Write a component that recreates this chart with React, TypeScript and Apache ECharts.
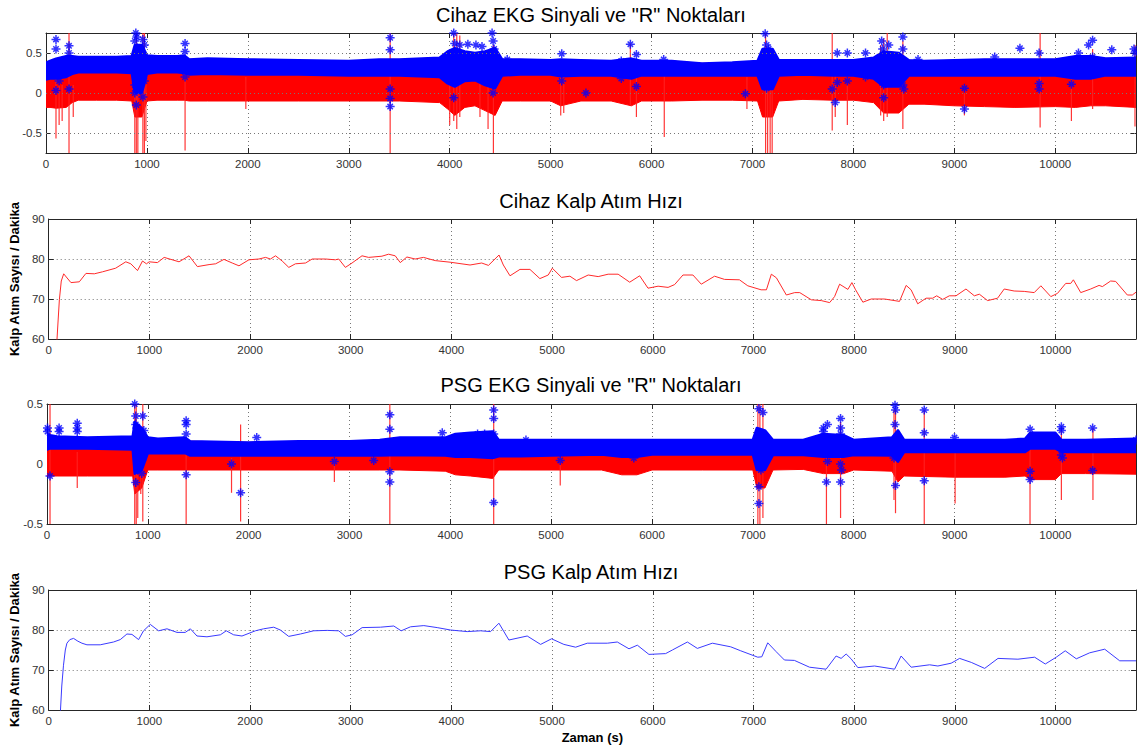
import React, { useEffect, useRef } from "react";
import * as echarts from "echarts";

// ---------- Plot 1: Cihaz EKG envelope (x in s) ----------
const ekg1X = [0, 40, 100, 200, 260, 320, 500, 700, 850, 880, 950, 1000, 1100, 1300, 1370, 1420, 1600, 2000, 2500, 3000, 3300, 3500, 3900, 3980, 4050, 4150, 4250, 4350, 4450, 4520, 4700, 5000, 5100, 5300, 5600, 5800, 5900, 6200, 6500, 6800, 7050, 7100, 7200, 7260, 7500, 7800, 8000, 8200, 8300, 8450, 8550, 8700, 9000, 9300, 9600, 10000, 10200, 10350, 10500, 10800];
const ekg1RedLow = [-0.18, -0.18, -0.19, -0.18, -0.12, -0.09, -0.09, -0.09, -0.1, -0.3, -0.3, -0.1, -0.09, -0.09, -0.09, -0.1, -0.1, -0.1, -0.1, -0.1, -0.1, -0.1, -0.12, -0.2, -0.28, -0.18, -0.16, -0.22, -0.28, -0.1, -0.1, -0.1, -0.16, -0.1, -0.1, -0.16, -0.1, -0.1, -0.09, -0.09, -0.1, -0.3, -0.3, -0.1, -0.08, -0.09, -0.09, -0.12, -0.25, -0.25, -0.14, -0.14, -0.16, -0.17, -0.18, -0.17, -0.18, -0.16, -0.16, -0.18];
const ekg1BlueLow = [0.17, 0.18, 0.18, 0.2, 0.24, 0.26, 0.26, 0.26, 0.25, 0.0, 0.0, 0.24, 0.26, 0.26, 0.25, 0.23, 0.24, 0.23, 0.23, 0.22, 0.22, 0.22, 0.2, 0.12, 0.08, 0.15, 0.16, 0.1, 0.06, 0.22, 0.23, 0.23, 0.21, 0.22, 0.22, 0.18, 0.22, 0.22, 0.22, 0.22, 0.22, 0.05, 0.05, 0.22, 0.23, 0.22, 0.22, 0.18, 0.08, 0.08, 0.22, 0.22, 0.22, 0.22, 0.22, 0.22, 0.18, 0.18, 0.22, 0.22];
const ekg1BlueHigh = [0.38, 0.4, 0.43, 0.46, 0.46, 0.45, 0.45, 0.45, 0.46, 0.6, 0.6, 0.47, 0.46, 0.46, 0.47, 0.42, 0.43, 0.42, 0.41, 0.4, 0.42, 0.42, 0.44, 0.52, 0.56, 0.52, 0.5, 0.52, 0.56, 0.42, 0.42, 0.41, 0.42, 0.41, 0.4, 0.43, 0.4, 0.4, 0.37, 0.38, 0.4, 0.55, 0.55, 0.41, 0.41, 0.41, 0.41, 0.44, 0.52, 0.5, 0.41, 0.4, 0.41, 0.42, 0.42, 0.42, 0.46, 0.46, 0.43, 0.44];
// [time, low, high]
const ekg1Spikes = [[99, -0.57, 0.3], [130, -0.4, 0.1], [160, -0.35, 0.1], [228, -0.75, 0.75], [270, -0.3, 0.1], [880, -0.75, 0.5], [895, -0.75, 0.75], [910, -0.75, 0.3], [960, -0.75, 0.75], [975, -0.75, 0.75], [990, -0.6, 0.3], [1378, -0.72, 0.3], [1980, -0.2, 0.2], [3410, -0.75, 0.75], [4000, -0.4, 0.5], [4040, -0.35, 0.75], [4070, -0.45, 0.75], [4100, -0.3, 0.72], [4300, -0.3, 0.4], [4380, -0.45, 0.5], [4433, -0.75, 0.6], [5100, -0.28, 0.3], [5130, -0.25, 0.3], [5790, -0.15, 0.62], [5850, -0.3, 0.4], [6126, -0.55, 0.3], [6945, -0.2, 0.2], [7130, -0.75, 0.75], [7150, -0.75, 0.5], [7175, -0.75, 0.55], [7195, -0.75, 0.4], [7790, -0.47, 0.75], [7820, -0.3, 0.3], [7940, -0.4, 0.3], [8270, -0.28, 0.6], [8300, -0.35, 0.68], [8335, -0.3, 0.75], [8490, -0.45, 0.65], [9100, -0.28, 0.1], [9850, -0.43, 0.75], [10160, -0.35, 0.2], [10370, -0.2, 0.55], [10790, -0.42, 0.6]];
// [time, value]
const ekg1RPoints = [[99, 0.67], [99, 0.55], [99, 0.03], [130, 0.15], [228, 0.59], [228, 0.5], [228, 0.05], [880, 0.65], [890, 0.75], [900, 0.7], [880, 0.1], [880, 0.0], [895, -0.15], [910, 0.3], [960, 0.67], [975, 0.6], [960, -0.05], [975, 0.15], [1378, 0.62], [1378, 0.52], [1378, 0.2], [3410, 0.69], [3410, 0.54], [3410, 0.05], [3410, -0.07], [3410, -0.17], [4040, 0.75], [4050, 0.62], [4060, 0.5], [4040, 0.15], [4040, -0.06], [4100, 0.6], [4180, 0.61], [4260, 0.6], [4320, 0.58], [4420, 0.75], [4430, 0.65], [4440, 0.55], [4430, 0.1], [4430, 0.0], [4570, 0.42], [5110, 0.49], [5110, 0.15], [5350, 0.0], [5700, 0.4], [5700, 0.18], [5790, 0.61], [5850, 0.48], [5850, 0.08], [6120, 0.42], [6930, -0.01], [7126, 0.74], [7140, 0.6], [7160, 0.55], [7126, 0.1], [7140, 0.06], [7180, 0.15], [7790, 0.05], [7820, -0.12], [7840, 0.5], [7840, 0.13], [7940, 0.5], [7940, 0.15], [8120, 0.5], [8120, 0.2], [8280, 0.65], [8290, 0.55], [8280, 0.3], [8300, 0.1], [8300, -0.06], [8350, 0.6], [8490, 0.7], [8490, 0.55], [8490, 0.1], [8500, 0.05], [8640, 0.42], [9100, 0.06], [9100, -0.2], [9400, 0.45], [9650, 0.56], [9840, 0.5], [9840, 0.05], [9840, 0.12], [10160, 0.11], [10230, 0.5], [10330, 0.6], [10370, 0.66], [10370, 0.45], [10560, 0.54], [10780, 0.55], [10790, 0.5]];

// ---------- Plot 2: Cihaz heart rate ----------
const cihazHr = [[78, 58], [92, 64], [106, 69.8], [125, 74.5], [149, 76.3], [175, 75.5], [221, 74.1], [304, 74.3], [370, 76.4], [453, 76.3], [535, 76.8], [665, 77.7], [766, 79.3], [816, 78.8], [882, 77.1], [932, 79.5], [971, 78.8], [998, 79.3], [1080, 79.1], [1147, 80.4], [1295, 79.3], [1394, 80.8], [1477, 78.1], [1593, 78.6], [1658, 78.8], [1741, 79.9], [1823, 79.0], [1890, 78.3], [1989, 79.8], [2088, 80.0], [2154, 80.4], [2203, 80.0], [2253, 80.8], [2319, 79.5], [2385, 77.9], [2451, 78.8], [2551, 79.0], [2617, 80.0], [2749, 80.0], [2848, 79.8], [2881, 80.0], [2947, 77.9], [3013, 79.0], [3112, 80.8], [3178, 80.4], [3310, 80.7], [3376, 81.2], [3442, 80.8], [3492, 79.1], [3558, 80.5], [3640, 80.0], [3723, 80.4], [3839, 79.6], [3987, 79.2], [4185, 78.5], [4301, 79.0], [4368, 78.4], [4473, 81.0], [4516, 78.5], [4582, 75.8], [4681, 77.4], [4780, 77.4], [4879, 75.1], [4962, 76.0], [5002, 77.7], [5094, 75.4], [5177, 75.7], [5243, 74.6], [5359, 76.0], [5458, 75.6], [5557, 76.2], [5656, 76.2], [5771, 74.2], [5870, 75.8], [5953, 72.7], [6053, 73.2], [6152, 72.9], [6217, 73.6], [6300, 76.0], [6399, 76.0], [6482, 73.7], [6614, 75.7], [6713, 74.9], [6861, 74.8], [6944, 73.3], [7076, 72.3], [7129, 72.3], [7178, 76.2], [7228, 75.3], [7327, 71.0], [7410, 71.6], [7460, 71.6], [7575, 69.8], [7674, 69.6], [7757, 69.1], [7806, 70.6], [7856, 73.7], [7938, 72.4], [7978, 74.1], [8015, 72.3], [8087, 69.2], [8170, 70.0], [8302, 70.0], [8451, 69.4], [8517, 73.4], [8566, 72.3], [8632, 68.8], [8715, 70.2], [8781, 70.2], [8820, 70.8], [8880, 69.9], [8946, 70.8], [9012, 70.8], [9111, 72.5], [9194, 70.8], [9244, 71.2], [9326, 69.6], [9425, 70.2], [9491, 72.5], [9590, 72.0], [9690, 71.9], [9789, 71.6], [9855, 73.3], [9954, 70.6], [10020, 71.4], [10102, 73.9], [10152, 73.9], [10178, 74.8], [10251, 71.6], [10350, 72.5], [10433, 73.4], [10466, 73.1], [10548, 74.5], [10598, 74.4], [10714, 71.0], [10763, 71.0], [10800, 71.7]];

// ---------- Plot 3: PSG EKG envelope ----------
const ekg2X = [0, 30, 100, 400, 850, 870, 940, 1000, 1100, 1370, 1420, 2000, 2500, 3000, 3300, 3500, 3950, 4050, 4200, 4420, 4480, 4700, 5000, 5500, 5700, 5850, 6000, 6500, 7000, 7040, 7120, 7200, 7500, 7700, 7900, 8000, 8380, 8440, 8500, 9000, 9500, 9700, 9750, 10000, 10060, 10300, 10800];
const ekg2RedLow = [-0.1, -0.1, -0.1, -0.1, -0.1, -0.25, -0.2, -0.05, -0.05, -0.05, -0.05, -0.05, -0.05, -0.05, -0.05, -0.05, -0.06, -0.09, -0.1, -0.12, -0.05, -0.05, -0.05, -0.05, -0.09, -0.09, -0.05, -0.05, -0.05, -0.2, -0.2, -0.05, -0.045, -0.08, -0.08, -0.05, -0.06, -0.15, -0.1, -0.11, -0.11, -0.1, -0.13, -0.13, -0.08, -0.08, -0.085];
const ekg2BlueLow = [0.12, 0.13, 0.13, 0.13, 0.12, -0.08, -0.05, 0.09, 0.09, 0.09, 0.07, 0.07, 0.07, 0.07, 0.07, 0.075, 0.07, 0.06, 0.06, 0.05, 0.065, 0.065, 0.07, 0.08, 0.06, 0.06, 0.08, 0.08, 0.08, -0.05, -0.05, 0.075, 0.075, 0.06, 0.06, 0.075, 0.07, 0.02, 0.1, 0.1, 0.1, 0.1, 0.13, 0.13, 0.1, 0.1, 0.1];
const ekg2BlueHigh = [0.25, 0.24, 0.23, 0.22, 0.23, 0.35, 0.3, 0.22, 0.21, 0.22, 0.19, 0.18, 0.19, 0.19, 0.2, 0.22, 0.22, 0.25, 0.26, 0.27, 0.2, 0.2, 0.2, 0.2, 0.2, 0.2, 0.2, 0.2, 0.2, 0.3, 0.28, 0.2, 0.2, 0.25, 0.24, 0.2, 0.22, 0.28, 0.2, 0.2, 0.2, 0.21, 0.26, 0.26, 0.2, 0.2, 0.21];
const ekg2Spikes = [[30, -0.5, 0.5], [300, -0.2, 0.1], [870, -0.5, 0.5], [885, -0.5, 0.5], [900, -0.45, 0.3], [930, -0.25, 0.2], [950, -0.48, 0.5], [1380, -0.5, 0.1], [1830, -0.24, 0.05], [1920, -0.48, 0.33], [2850, -0.15, 0.05], [3400, -0.5, 0.5], [4430, -0.5, 0.5], [5090, -0.18, 0.05], [7050, -0.5, 0.5], [7070, -0.5, 0.5], [7100, -0.45, 0.5], [7730, -0.5, 0.1], [7870, -0.45, 0.35], [8400, -0.3, 0.45], [8415, -0.41, 0.45], [8700, -0.5, 0.45], [9006, -0.33, 0.1], [9749, -0.5, 0.2], [10060, -0.3, 0.3], [10373, -0.3, 0.3]];
const ekg2RPoints = [[5, 0.3], [5, 0.27], [30, -0.1], [120, 0.3], [120, 0.27], [300, 0.34], [300, 0.3], [300, 0.27], [870, 0.5], [880, 0.4], [880, 0.33], [890, 0.3], [870, 0.2], [880, -0.155], [900, -0.05], [940, -0.08], [950, 0.4], [960, 0.28], [940, 0.03], [1380, 0.36], [1380, 0.33], [1380, 0.25], [1380, -0.09], [1830, 0.0], [1920, -0.24], [2080, 0.22], [2850, 0.02], [3240, 0.03], [3400, 0.41], [3400, 0.29], [3400, -0.064], [3400, -0.15], [3920, 0.26], [4270, 0.25], [4340, 0.25], [4430, 0.45], [4430, 0.38], [4430, 0.25], [4430, -0.32], [4750, 0.2], [5090, 0.03], [5820, 0.05], [7060, 0.46], [7100, 0.43], [7060, 0.25], [7080, -0.05], [7060, -0.19], [7060, -0.33], [7700, 0.27], [7700, 0.3], [7730, -0.15], [7740, 0.33], [7740, 0.02], [7870, 0.38], [7870, 0.3], [7870, 0.25], [7870, 0.0], [7880, -0.05], [7870, -0.15], [8410, 0.49], [8415, 0.45], [8410, 0.33], [8415, -0.18], [8400, 0.05], [8700, 0.45], [8700, 0.26], [8700, -0.14], [9000, 0.22], [9750, 0.29], [9750, -0.06], [9750, -0.13], [10060, 0.31], [10060, 0.28], [10060, 0.075], [10070, 0.05], [10370, 0.3], [10370, -0.055], [10800, 0.2]];

// ---------- Plot 4: PSG heart rate ----------
const psgHr = [[113, 58], [130, 66], [147, 71.2], [165, 75], [181, 76.7], [210, 77.6], [247, 77.9], [290, 77.2], [330, 76.7], [380, 76.3], [512, 76.3], [644, 77.0], [711, 77.6], [777, 79.0], [827, 78.9], [893, 77.6], [942, 79.8], [1009, 81.4], [1092, 79.8], [1175, 80.3], [1274, 79.4], [1357, 79.4], [1407, 80.3], [1473, 78.5], [1572, 78.3], [1705, 78.8], [1764, 79.8], [1837, 78.8], [1920, 78.5], [2053, 79.8], [2135, 80.3], [2235, 80.7], [2301, 80.0], [2384, 78.4], [2500, 79.0], [2632, 79.8], [2766, 79.9], [2881, 79.8], [2947, 78.4], [3014, 78.8], [3113, 80.6], [3295, 80.7], [3428, 81.0], [3501, 79.8], [3594, 80.8], [3726, 81.1], [3859, 80.6], [3991, 80.0], [4157, 79.6], [4289, 79.8], [4389, 79.6], [4472, 81.7], [4571, 77.5], [4753, 78.5], [4886, 76.4], [4995, 77.8], [5117, 76.4], [5234, 75.7], [5350, 76.7], [5549, 76.7], [5648, 77.0], [5764, 75.3], [5847, 76.2], [5962, 73.9], [6128, 74.1], [6195, 75.0], [6344, 77.0], [6443, 75.4], [6592, 76.7], [6774, 75.8], [6874, 74.8], [7043, 73.2], [7083, 73.3], [7142, 76.8], [7225, 74.6], [7308, 72.5], [7407, 72.4], [7557, 70.7], [7722, 70.2], [7821, 73.5], [7871, 72.9], [7921, 74.0], [7970, 72.8], [8037, 70.6], [8203, 71.0], [8402, 70.2], [8467, 73.5], [8567, 70.7], [8750, 71.3], [8832, 71.0], [8964, 71.7], [9048, 72.9], [9164, 71.9], [9297, 70.4], [9429, 72.9], [9627, 72.7], [9793, 73.2], [9899, 71.5], [10008, 73.2], [10097, 74.8], [10207, 72.8], [10340, 74.3], [10489, 75.2], [10638, 72.3], [10800, 72.3]];

// ---------- texts & ticks ----------
const titles = ['Cihaz EKG Sinyali ve "R" Noktaları', "Cihaz Kalp Atım Hızı", 'PSG EKG Sinyali ve "R" Noktaları', "PSG Kalp Atım Hızı"];
const yName = "Kalp Atım Sayısı / Dakika";
const xName = "Zaman (s)";
const ekg1YTicks = [-0.5, 0, 0.5];

const FONT = "'Liberation Sans', Arial, Helvetica, sans-serif";
const AX = "#262626";
const STAR = "path://M0,5L10,5M5,0L5,10M2,2L8,8M8,2L2,8";

const grids = [
  { left: 46, top: 33, width: 1090, height: 120 },
  { left: 46, top: 219, width: 1090, height: 120 },
  { left: 47, top: 404, width: 1089, height: 120 },
  { left: 48, top: 590, width: 1088, height: 120 },
];
const titleY = [15, 201, 385, 572];

function xAxesFor(i: number) {
  const common: any = {
    type: "value", gridIndex: i, min: 0, max: 10800, interval: 1000,
    axisLine: { show: true, onZero: false, lineStyle: { color: AX, width: 1 } },
    axisTick: { show: true, inside: true, length: 5, lineStyle: { color: AX } },
  };
  const bottom: any = {
    ...common, position: "bottom",
    axisLabel: { show: true, color: "#333", fontSize: 11.5, fontFamily: FONT, margin: 5, showMaxLabel: false, formatter: (v: number) => String(v) },
    splitLine: { show: true, lineStyle: { color: "#777", type: [1, 3], width: 1 } },
  };
  if (i === 3) {
    bottom.name = xName;
    bottom.nameLocation = "middle";
    bottom.nameGap = 21;
    bottom.nameTextStyle = { fontSize: 13, fontWeight: "bold", color: "#000", fontFamily: FONT };
  }
  const top = { ...common, position: "top", axisLabel: { show: false }, splitLine: { show: false } };
  return [bottom, top];
}

function yAxesFor(i: number, min: number, max: number, interval: number, custom?: number[], named?: boolean) {
  const common: any = {
    type: "value", gridIndex: i, min, max, interval,
    axisLine: { show: true, onZero: false, lineStyle: { color: AX, width: 1 } },
    axisTick: { show: true, inside: true, length: 5, lineStyle: { color: AX } },
  };
  if (custom) common.axisTick.customValues = custom;
  const left: any = {
    ...common, position: "left",
    axisLabel: {
      show: true, color: "#333", fontSize: 11.5, fontFamily: FONT, margin: 4,
      ...(custom ? { customValues: custom, formatter: (v: number) => (custom.indexOf(v) >= 0 ? String(v) : "") } : {}),
    },
    splitLine: { show: !custom, lineStyle: { color: "#777", type: [1, 3], width: 1 } },
  };
  if (named) {
    left.name = yName;
    left.nameLocation = "middle";
    left.nameRotate = 90;
    left.nameGap = 23;
    left.nameTextStyle = { fontSize: 13, fontWeight: "bold", color: "#000", fontFamily: FONT };
  }
  const right: any = { ...common, position: "right", axisLabel: { show: false }, splitLine: { show: false } };
  if (custom) right.axisTick = { ...common.axisTick, customValues: custom };
  return [left, right];
}

// filled band between two value lists, drawn as one polygon through the axis scale
function bandSeries(axis: number, xs: number[], lo: number[], hi: number[], color: string, z: number, edge: number) {
  return {
    type: "custom", xAxisIndex: axis * 2, yAxisIndex: axis * 2, z, clip: true, silent: true,
    encode: { x: 0, y: [1, 2] },
    data: xs.map((x, k) => [x, lo[k], hi[k]]),
    renderItem: (params: any, api: any) => {
      if (params.dataIndex !== 0) return null;
      const top = xs.map((x, k) => api.coord([x, hi[k]]));
      const bot = xs.map((x, k) => api.coord([x, lo[k]])).reverse();
      return {
        type: "polygon",
        shape: { points: top.concat(bot) },
        style: { fill: color, stroke: color, lineWidth: edge, lineJoin: "round" },
      };
    },
  };
}

function ekgSeries(axis: number, xs: number[], redLow: number[], blueLow: number[], blueHigh: number[], spikes: number[][], rpts: number[][], gridMarks?: number[]) {
  const out: any[] = [];
  const red: any = bandSeries(axis, xs, redLow, blueHigh, "#ff0000", 2, 1);
  if (gridMarks) {
    red.markLine = {
      silent: true, symbol: "none", label: { show: false },
      lineStyle: { color: "#777", type: [1, 3], width: 1 },
      data: gridMarks.map((v) => ({ yAxis: v })),
    };
  }
  out.push(red);
  out.push({
    type: "custom", xAxisIndex: axis * 2, yAxisIndex: axis * 2, z: 3, clip: true, silent: true,
    encode: { x: 0, y: [1, 2] },
    data: spikes,
    renderItem: (_p: any, api: any) => {
      const a = api.coord([api.value(0), api.value(1)]);
      const b = api.coord([api.value(0), api.value(2)]);
      return { type: "line", shape: { x1: a[0], y1: a[1], x2: b[0], y2: b[1] }, style: { stroke: "#ff2020", lineWidth: 1.2, opacity: 0.9 } };
    },
  });
  out.push(bandSeries(axis, xs, blueLow, blueHigh, "#0000ff", 4, 2.5));
  out.push({
    type: "scatter", xAxisIndex: axis * 2, yAxisIndex: axis * 2, z: 5, silent: true,
    data: rpts, symbol: STAR, symbolSize: 9,
    itemStyle: { color: "rgba(0,0,0,0)", borderColor: "#0000ff", borderWidth: 1.5 },
  });
  return out;
}

function buildOption(): any {
  const xAxis = [0, 1, 2, 3].flatMap((i) => xAxesFor(i));
  const yAxis = [
    ...yAxesFor(0, -0.75, 0.75, 0.25, ekg1YTicks),
    ...yAxesFor(1, 60, 90, 10, undefined, true),
    ...yAxesFor(2, -0.5, 0.5, 0.5),
    ...yAxesFor(3, 60, 90, 10, undefined, true),
  ];
  const series: any[] = [
    ...ekgSeries(0, ekg1X, ekg1RedLow, ekg1BlueLow, ekg1BlueHigh, ekg1Spikes, ekg1RPoints, ekg1YTicks),
    {
      type: "line", xAxisIndex: 2, yAxisIndex: 2, data: cihazHr, showSymbol: false, symbol: "none",
      lineStyle: { color: "#ff2a2a", width: 1 }, z: 3, silent: true,
    },
    ...ekgSeries(2, ekg2X, ekg2RedLow, ekg2BlueLow, ekg2BlueHigh, ekg2Spikes, ekg2RPoints),
    {
      type: "line", xAxisIndex: 6, yAxisIndex: 6, data: psgHr, showSymbol: false, symbol: "none",
      lineStyle: { color: "#3a3aff", width: 1 }, z: 3, silent: true,
    },
  ];
  const graphic = titles.map((t, i) => ({
    type: "text", x: 591, y: titleY[i],
    style: { text: t, fill: "#000", fontSize: 20, fontFamily: FONT, align: "center", verticalAlign: "middle" },
  }));
  return {
    animation: false,
    backgroundColor: "#ffffff",
    grid: grids,
    xAxis, yAxis, series, graphic,
  };
}

export default function App() {
  const ref = useRef<HTMLDivElement>(null);
  useEffect(() => {
    document.body.style.margin = "0";
    const chart = echarts.init(ref.current as HTMLDivElement, null, { renderer: "svg" });
    chart.setOption(buildOption());
    return () => chart.dispose();
  }, []);
  return <div ref={ref} style={{ width: 1137, height: 751 }} />;
}
